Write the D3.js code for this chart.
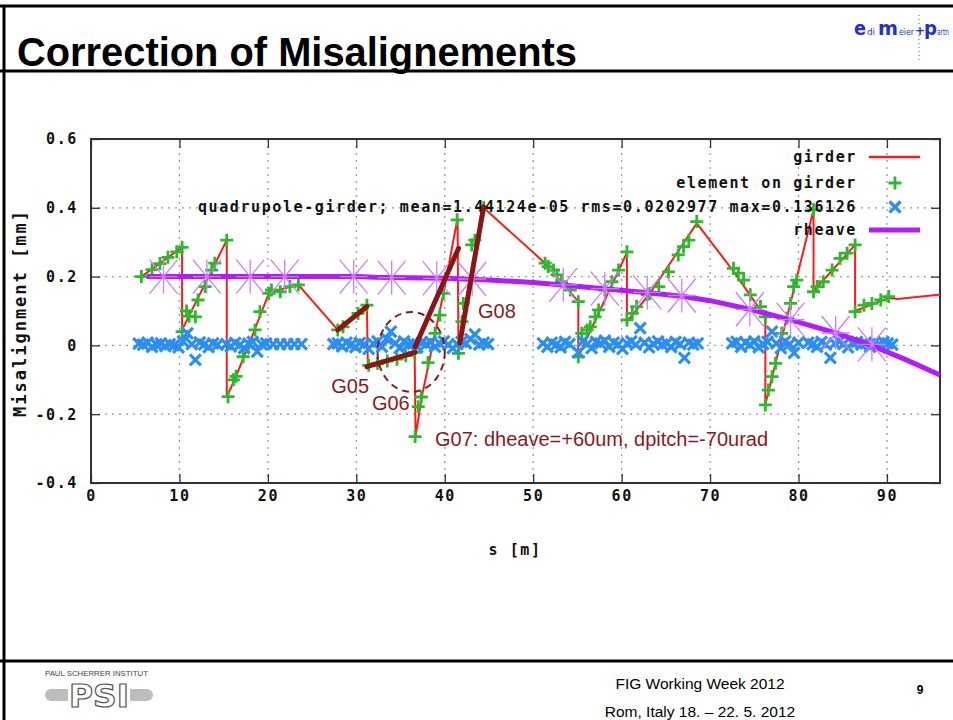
<!DOCTYPE html>
<html>
<head>
<meta charset="utf-8">
<script src="https://cdn.jsdelivr.net/npm/d3@7"></script>
<style>
  body { margin: 0; background: #fff; }
  svg { display: block; }
  .mono { font-family: "DejaVu Sans Mono", monospace; font-weight: bold; font-size: 15px; letter-spacing: 1.6px; fill: #111; }
  .note { font-family: "Liberation Sans", Arial, sans-serif; font-size: 20px; fill: #8b1a1a; }
</style>
</head>
<body>
<svg id="slide" width="953" height="720"></svg>
<script>
// ----------------- DATA ----------------- //
const xTicks = [0, 10, 20, 30, 40, 50, 60, 70, 80, 90];
const yTicks = [-0.4, -0.2, 0, 0.2, 0.4, 0.6];

// girder line (red), one polyline with the jumps between girders
const girderS = [5.7, 10.3, 10.3, 15.35, 15.35, 16.4, 18.5, 20.1, 21.0, 23.45, 27.9, 31.2, 31.3, 36.6, 36.7, 37.4, 38.9, 39.85, 41.45, 41.55,
                 44.4, 51.35, 55.1, 55.1, 60.6, 60.6, 63.2, 68.5, 72.65, 76.25, 76.25, 81.7, 81.7, 86.4, 86.4, 90.2, 91.2, 95.8, 96];
const girderY = [0.2, 0.285, 0.045, 0.306, -0.15, -0.09, 0.045, 0.151, 0.16, 0.176, 0.045, 0.113, -0.057, -0.02, -0.265, -0.15, 0.035, 0.151, 0.37, -0.023,
                 0.40, 0.239, 0.127, -0.033, 0.27, 0.069, 0.151, 0.355, 0.215, 0.083, -0.172, 0.394, 0.158, 0.292, 0.1, 0.138, 0.135, 0.147, 0.147];

// element on girder (green +)
const elemS = [5.7, 6.9, 7.8, 8.7, 9.7, 10.3,
               10.3, 10.8, 11.1, 11.8, 12.1, 12.9, 13.65, 14.0, 15.35,
               15.5, 16.1, 16.4, 17.2, 17.8, 18.55, 19.1, 20.1, 20.4, 21.4, 22.5, 23.45,
               27.9, 28.5, 30.2, 31.2,
               31.4, 32.4, 33.5, 34.6, 35.6, 36.6,
               36.65, 37.0, 37.35, 38.1, 38.9, 39.45, 39.85, 41.4,
               41.55, 41.95, 42.1, 43.05, 43.4, 44.4,
               51.35, 51.7, 52.3, 52.7, 53.2, 54.2, 55.1,
               55.1, 55.5, 56.1, 56.45, 57.0, 57.4, 58.1, 58.9, 59.65, 60.6,
               60.6, 61.2, 61.7, 62.9, 63.2, 64.2, 65.3, 66.4, 67.0, 67.6, 68.5,
               72.65, 73.2, 73.8, 74.55, 75.7, 76.25,
               76.25, 76.6, 77.0, 77.4, 78.1, 78.7, 79.1, 79.45, 79.8, 81.7,
               81.7, 82.1, 82.8, 83.8, 84.7, 85.5, 86.4,
               86.4, 87.4, 88.3, 89.3, 90.2];
const elemY = [0.2, 0.22, 0.238, 0.256, 0.272, 0.285,
               0.04, 0.1, 0.085, 0.083, 0.132, 0.171, 0.219, 0.239, 0.306,
               -0.149, -0.1, -0.09, -0.033, -0.004, 0.045, 0.098, 0.151, 0.161, 0.156, 0.171, 0.176,
               0.045, 0.054, 0.093, 0.117,
               -0.058, -0.052, -0.045, -0.04, -0.03, -0.02,
               -0.265, -0.178, -0.15, -0.05, 0.035, 0.088, 0.151, 0.365,
               -0.023, 0.069, 0.122, 0.292, 0.306, 0.4,
               0.239, 0.229, 0.219, 0.205, 0.185, 0.161, 0.127,
               -0.033, 0.035, 0.045, 0.054, 0.083, 0.103, 0.161, 0.185, 0.219, 0.272,
               0.074, 0.093, 0.113, 0.147, 0.151, 0.171, 0.214, 0.263, 0.287, 0.306, 0.36,
               0.224, 0.21, 0.19, 0.147, 0.113, 0.083,
               -0.173, -0.13, -0.091, -0.052, 0.035, 0.079, 0.122, 0.171, 0.19, 0.394,
               0.156, 0.171, 0.185, 0.219, 0.253, 0.268, 0.292,
               0.098, 0.117, 0.122, 0.132, 0.142];

// quadrupole - girder (blue x)
const quadS = [5.4, 5.9, 6.4, 6.9, 7.4, 7.9, 8.4, 8.9, 9.4, 9.9, 10.4, 10.9, 11.4, 11.8, 12.3, 12.8, 13.3, 13.8, 14.3,
               15.3, 15.8, 16.3, 16.8, 17.3, 17.8, 18.3, 18.8, 19.3, 19.8, 20.6, 21.4, 22.2, 23.0, 23.8,
               27.4, 27.9, 28.4, 28.9, 29.4, 29.9, 30.4, 30.9, 31.4, 31.9, 32.4, 32.9, 33.4, 33.9, 34.4, 34.9, 35.4, 35.9,
               36.4, 36.9, 37.4, 37.9, 38.4, 38.9, 39.4, 39.9, 40.4, 40.9, 41.4, 41.9, 42.4, 42.9, 43.4, 43.9, 44.4, 44.9,
               51.1, 51.6, 52.1, 52.6, 53.1, 53.6, 54.1, 55.1, 55.6, 56.1, 56.6, 57.1, 57.6, 58.1, 58.6, 59.1, 59.6, 60.1,
               60.6, 61.1, 61.6, 62.1, 62.6, 63.1, 63.6, 64.1, 64.6, 65.1, 65.6, 66.1, 66.6, 67.1, 67.6, 68.1, 68.6,
               72.5, 73.0, 73.5, 74.0, 74.5, 75.0, 75.5, 76.0, 76.5, 77.0, 77.5, 78.0, 78.5, 79.0, 79.5, 80.0,
               81.1, 81.6, 82.1, 82.6, 83.1, 83.6, 84.1, 84.6, 85.1, 85.6, 86.1, 86.6, 87.1, 87.6, 88.1, 88.6, 89.1, 89.6, 90.1, 90.6];
const quadY = [0.005, 0.002, 0.008, -0.004, 0.003, 0.006, -0.002, 0.004, 0.001, -0.006, 0.012, 0.035, 0.004, -0.042, 0.009, 0.003, -0.005, 0.006, 0.002,
               0.004, -0.003, 0.007, 0.001, -0.008, 0.005, 0.01, -0.018, 0.003, 0.006, 0.004, 0.004, 0.004, 0.004, 0.004,
               0.004, 0.006, -0.003, 0.008, 0.002, -0.005, 0.007, 0.003, -0.01, 0.005, 0.012, -0.004, 0.02, 0.04, 0.006, -0.008, 0.012, 0.003,
               0.005, -0.006, 0.008, 0.004, 0.01, -0.004, 0.006, 0.012, 0.002, -0.008, 0.004, 0.01, 0.006, 0.018, 0.032, 0.002, 0.008, 0.004,
               0.006, -0.004, 0.008, 0.002, -0.006, 0.01, 0.004, -0.02, 0.012, 0.004, -0.008, 0.01, 0.006, 0.014, -0.004, 0.008, 0.004, -0.01,
               0.006, 0.012, 0.002, 0.05, 0.008, -0.006, 0.004, 0.012, 0.002, 0.006, -0.005, 0.01, 0.004, -0.036, 0.008, 0.002, 0.006,
               0.006, 0.01, -0.004, 0.008, 0.002, 0.012, -0.006, 0.004, 0.01, 0.04, 0.006, -0.008, 0.012, 0.004, -0.022, 0.008,
               0.008, 0.004, -0.004, 0.01, 0.002, -0.036, 0.006, 0.012, 0.004, -0.006, 0.008, 0.01, 0.002, 0.006, -0.004, 0.008, 0.004, 0.01, 0.006, 0.002];

// rheave (purple line) and its asterisk points
const rheaveS = [6.3, 20, 30, 32, 40, 45, 50, 53, 58, 63, 67, 70, 74.5, 79, 84.4, 88, 92, 96];
const rheaveY = [0.2, 0.2, 0.2, 0.198, 0.195, 0.19, 0.183, 0.176, 0.165, 0.153, 0.142, 0.13, 0.105, 0.075, 0.035, 0.002, -0.04, -0.086];
const rheaveMarkS = [8.2, 13.1, 18.0, 21.9, 29.7, 34.0, 39.1, 43.1, 53.4, 58.1, 62.9, 66.8, 74.5, 79.1, 84.2, 88.3];
const rheaveMarkY = [0.2, 0.2, 0.2, 0.2, 0.2, 0.197, 0.195, 0.193, 0.176, 0.165, 0.154, 0.145, 0.105, 0.075, 0.036, 0.003];

// corrected girders drawn over the plot (dark red)
const corrNames = ['G05', 'G06', 'G07', 'G08'];
const corrS = [[27.9, 31.2], [31.2, 36.65], [36.65, 41.55], [41.7, 44.4]];
const corrY = [[0.045, 0.113], [-0.062, -0.02], [-0.004, 0.282], [0.006, 0.403]];

const legendLabels = ['girder', 'element on girder',
  'quadrupole-girder; mean=1.44124e-05 rms=0.0202977 max=0.136126', 'rheave'];

// annotations placed in data coordinates
const notes = [
  { text: 'G05', s: 29.3, v: -0.138, anchor: 'middle' },
  { text: 'G06', s: 33.9, v: -0.188, anchor: 'middle' },
  { text: 'G08', s: 45.9, v: 0.08, anchor: 'middle' },
  { text: 'G07: dheave=+60um, dpitch=-70urad', s: 38.9, v: -0.292, anchor: 'start' }
];

// ----------------- SLIDE FRAME ----------------- //
const svg = d3.select('#slide');

svg.append('line').attr('x1', 0).attr('x2', 953).attr('y1', 6).attr('y2', 6).attr('stroke', '#000').attr('stroke-width', 3);
svg.append('line').attr('x1', 4).attr('x2', 4).attr('y1', 5).attr('y2', 720).attr('stroke', '#000').attr('stroke-width', 3);
svg.append('line').attr('x1', 0).attr('x2', 953).attr('y1', 71).attr('y2', 71).attr('stroke', '#000').attr('stroke-width', 3);
svg.append('line').attr('x1', 0).attr('x2', 953).attr('y1', 661).attr('y2', 661).attr('stroke', '#000').attr('stroke-width', 3);

svg.append('text')
  .attr('x', 17).attr('y', 66)
  .attr('textLength', 560).attr('lengthAdjust', 'spacingAndGlyphs')
  .style('font-family', '"Liberation Sans", Arial, sans-serif')
  .style('font-weight', 'bold').style('font-size', '41px')
  .text('Correction of Misalignements');

// edi meier + partner logo
const logo = svg.append('g').attr('fill', '#2233c4').style('font-family', '"DejaVu Sans", sans-serif');
logo.append('text').attr('x', 854).attr('y', 35).style('font-size', '19px').style('font-weight', 'bold').attr('textLength', 12).attr('lengthAdjust', 'spacingAndGlyphs').text('e');
logo.append('text').attr('x', 867).attr('y', 35).style('font-size', '9px').attr('textLength', 8).attr('lengthAdjust', 'spacingAndGlyphs').text('di');
logo.append('text').attr('x', 878).attr('y', 35).style('font-size', '19px').style('font-weight', 'bold').attr('textLength', 20).attr('lengthAdjust', 'spacingAndGlyphs').text('m');
logo.append('text').attr('x', 899).attr('y', 35).style('font-size', '9px').attr('textLength', 15).attr('lengthAdjust', 'spacingAndGlyphs').text('eier');
logo.append('text').attr('x', 915).attr('y', 35).style('font-size', '12px').style('font-weight', 'bold').text('+');
logo.append('text').attr('x', 924).attr('y', 35).style('font-size', '19px').style('font-weight', 'bold').attr('textLength', 13).attr('lengthAdjust', 'spacingAndGlyphs').text('p');
logo.append('text').attr('x', 937).attr('y', 35).style('font-size', '9px').attr('textLength', 12).attr('lengthAdjust', 'spacingAndGlyphs').text('artn');
svg.append('line').attr('x1', 919).attr('x2', 919).attr('y1', 15).attr('y2', 63)
  .attr('stroke', '#4a5ad0').attr('stroke-width', 1).attr('stroke-dasharray', '1 3');

// ----------------- PLOT ----------------- //
const x = d3.scaleLinear().domain([0, 96]).range([91, 940]);
const y = d3.scaleLinear().domain([-0.4, 0.6]).range([483, 139]);

const plot = svg.append('g');

plot.append('defs').append('clipPath').attr('id', 'clip')
  .append('rect').attr('x', 91).attr('y', 139).attr('width', 849).attr('height', 344);

// grid
plot.append('g').selectAll('line')
  .data(xTicks.filter(d => d > 0))
  .join('line')
  .attr('x1', d => x(d)).attr('x2', d => x(d))
  .attr('y1', 139).attr('y2', 483)
  .attr('stroke', '#9a9a9a').attr('stroke-width', 1.3).attr('stroke-dasharray', '2 5');
plot.append('g').selectAll('line')
  .data(yTicks.filter(d => d > -0.4 && d < 0.6))
  .join('line')
  .attr('x1', 91).attr('x2', 940)
  .attr('y1', d => y(d)).attr('y2', d => y(d))
  .attr('stroke', '#9a9a9a').attr('stroke-width', 1.3).attr('stroke-dasharray', '2 5');

// axes, gnuplot style ticks pointing inwards on all four sides
const yFmt = d => d === 0 ? '0' : d.toFixed(1);

const gx = plot.append('g').attr('transform', 'translate(0,483)')
  .call(d3.axisBottom(x).tickValues(xTicks).tickSizeInner(-9).tickSizeOuter(0).tickPadding(7).tickFormat(d3.format('d')));
const gy = plot.append('g').attr('transform', 'translate(91,0)')
  .call(d3.axisLeft(y).tickValues(yTicks).tickSizeInner(-9).tickSizeOuter(0).tickPadding(13).tickFormat(yFmt));
plot.append('g').attr('transform', 'translate(0,139)')
  .call(d3.axisTop(x).tickValues(xTicks).tickSizeInner(-9).tickSizeOuter(0).tickFormat(''));
plot.append('g').attr('transform', 'translate(940,0)')
  .call(d3.axisRight(y).tickValues(yTicks).tickSizeInner(-9).tickSizeOuter(0).tickFormat(''));

plot.selectAll('.domain').remove();
plot.selectAll('.tick line').attr('stroke', '#333').attr('stroke-width', 1.3);
[gx, gy].forEach(g => g.selectAll('text').attr('class', 'mono').attr('fill', null));

plot.append('rect')
  .attr('x', 91).attr('y', 139).attr('width', 849).attr('height', 344)
  .attr('fill', 'none').attr('stroke', '#333').attr('stroke-width', 2);

// axis titles
plot.append('text').attr('class', 'mono')
  .attr('x', 515).attr('y', 555).attr('text-anchor', 'middle')
  .text('s [m]');
plot.append('text').attr('class', 'mono')
  .attr('transform', 'translate(26,313) rotate(-90)')
  .attr('text-anchor', 'middle')
  .style('font-size', '17px').style('letter-spacing', '2px')
  .text('Misalignment [mm]');

const data = (s, v) => s.map((d, i) => [d, v[i]]);
const lineGen = d3.line().x(d => x(d[0])).y(d => y(d[1]));

const inner = plot.append('g').attr('clip-path', 'url(#clip)');

// girder
inner.append('path')
  .datum(data(girderS, girderY))
  .attr('d', lineGen)
  .attr('fill', 'none').attr('stroke', '#ff1a1a').attr('stroke-width', 2);

// element on girder
const plusPath = 'M-6.5,0H6.5M0,-6.5V6.5';
inner.append('g').selectAll('path')
  .data(data(elemS, elemY))
  .join('path')
  .attr('d', plusPath)
  .attr('transform', d => 'translate(' + x(d[0]) + ',' + y(d[1]) + ')')
  .attr('stroke', '#2eb82e').attr('stroke-width', 2.8);

// quadrupole - girder
const crossPath = 'M-5.5,-5.5L5.5,5.5M-5.5,5.5L5.5,-5.5';
inner.append('g').selectAll('path')
  .data(data(quadS, quadY))
  .join('path')
  .attr('d', crossPath)
  .attr('transform', d => 'translate(' + x(d[0]) + ',' + y(d[1]) + ')')
  .attr('stroke', '#2a8ef5').attr('stroke-width', 3.2);

// rheave
inner.append('path')
  .datum(data(rheaveS, rheaveY))
  .attr('d', lineGen)
  .attr('fill', 'none').attr('stroke', '#b31aff').attr('stroke-width', 5);

const starPath = 'M-14,0H14M0,-17V17M-14,-17L14,17M-14,17L14,-17';
inner.append('g').selectAll('path')
  .data(data(rheaveMarkS, rheaveMarkY))
  .join('path')
  .attr('d', starPath)
  .attr('transform', d => 'translate(' + x(d[0]) + ',' + y(d[1]) + ')')
  .attr('stroke', '#cf7cff').attr('stroke-width', 1.3);

// legend
const legendY = [157, 183, 207, 230];
const legend = plot.append('g');
legend.selectAll('text')
  .data(legendLabels)
  .join('text')
  .attr('class', 'mono')
  .attr('x', 857).attr('y', (d, i) => legendY[i]).attr('dy', '0.35em')
  .attr('text-anchor', 'end')
  .text(d => d);
legend.append('line').attr('x1', 869).attr('x2', 920).attr('y1', legendY[0]).attr('y2', legendY[0])
  .attr('stroke', '#ff1a1a').attr('stroke-width', 2.5);
legend.append('path').attr('d', plusPath).attr('transform', 'translate(895,' + legendY[1] + ')')
  .attr('stroke', '#2eb82e').attr('stroke-width', 2.8);
legend.append('path').attr('d', crossPath).attr('transform', 'translate(895,' + legendY[2] + ')')
  .attr('stroke', '#2a8ef5').attr('stroke-width', 3.2);
legend.append('line').attr('x1', 869).attr('x2', 920).attr('y1', legendY[3]).attr('y2', legendY[3])
  .attr('stroke', '#b31aff').attr('stroke-width', 5);

// ----------------- CORRECTION OVERLAY ----------------- //
const overlay = plot.append('g');
overlay.selectAll('line')
  .data(corrNames)
  .join('line')
  .attr('x1', (d, i) => x(corrS[i][0])).attr('x2', (d, i) => x(corrS[i][1]))
  .attr('y1', (d, i) => y(corrY[i][0])).attr('y2', (d, i) => y(corrY[i][1]))
  .attr('stroke', '#8b1414').attr('stroke-width', 5).attr('stroke-linecap', 'round');

// dashed ring around G06/G07 joint
overlay.append('ellipse')
  .attr('cx', x(36.2)).attr('cy', y(-0.019))
  .attr('rx', x(36.2 + 3.8) - x(36.2)).attr('ry', y(-0.019) - y(-0.019 + 0.116))
  .attr('fill', 'none').attr('stroke', '#8b1a1a').attr('stroke-width', 2).attr('stroke-dasharray', '7 5');

overlay.selectAll('text')
  .data(notes)
  .join('text')
  .attr('class', 'note')
  .attr('x', d => x(d.s)).attr('y', d => y(d.v))
  .attr('text-anchor', d => d.anchor)
  .text(d => d.text);

// ----------------- FOOTER ----------------- //
const foot = svg.append('g');
foot.append('text')
  .attr('x', 45).attr('y', 676)
  .attr('textLength', 103).attr('lengthAdjust', 'spacingAndGlyphs')
  .attr('fill', '#444')
  .style('font-family', '"Liberation Sans", Arial, sans-serif').style('font-size', '7.5px')
  .text('PAUL SCHERRER INSTITUT');
foot.append('rect').attr('x', 45).attr('y', 689).attr('width', 108).attr('height', 12).attr('rx', 6).attr('fill', '#bdbdbd');
foot.append('rect').attr('x', 68).attr('y', 682).attr('width', 62).attr('height', 27).attr('fill', '#fff');
foot.append('text')
  .attr('x', 69).attr('y', 707)
  .attr('textLength', 60).attr('lengthAdjust', 'spacingAndGlyphs')
  .attr('fill', '#fff').attr('stroke', '#555').attr('stroke-width', 1.2)
  .style('font-family', '"DejaVu Sans", sans-serif').style('font-weight', 'bold').style('font-size', '32px')
  .text('PSI');

foot.append('text')
  .attr('x', 700).attr('y', 689).attr('text-anchor', 'middle')
  .style('font-family', '"Liberation Sans", Arial, sans-serif').style('font-size', '15.5px')
  .text('FIG Working Week 2012');
foot.append('text')
  .attr('x', 700).attr('y', 717).attr('text-anchor', 'middle')
  .style('font-family', '"Liberation Sans", Arial, sans-serif').style('font-size', '15.5px')
  .text('Rom, Italy 18. \u2013 22. 5. 2012');
foot.append('text')
  .attr('x', 920).attr('y', 694).attr('text-anchor', 'middle')
  .style('font-family', '"Liberation Sans", Arial, sans-serif').style('font-weight', 'bold').style('font-size', '12px')
  .text('9');
</script>
</body>
</html>
